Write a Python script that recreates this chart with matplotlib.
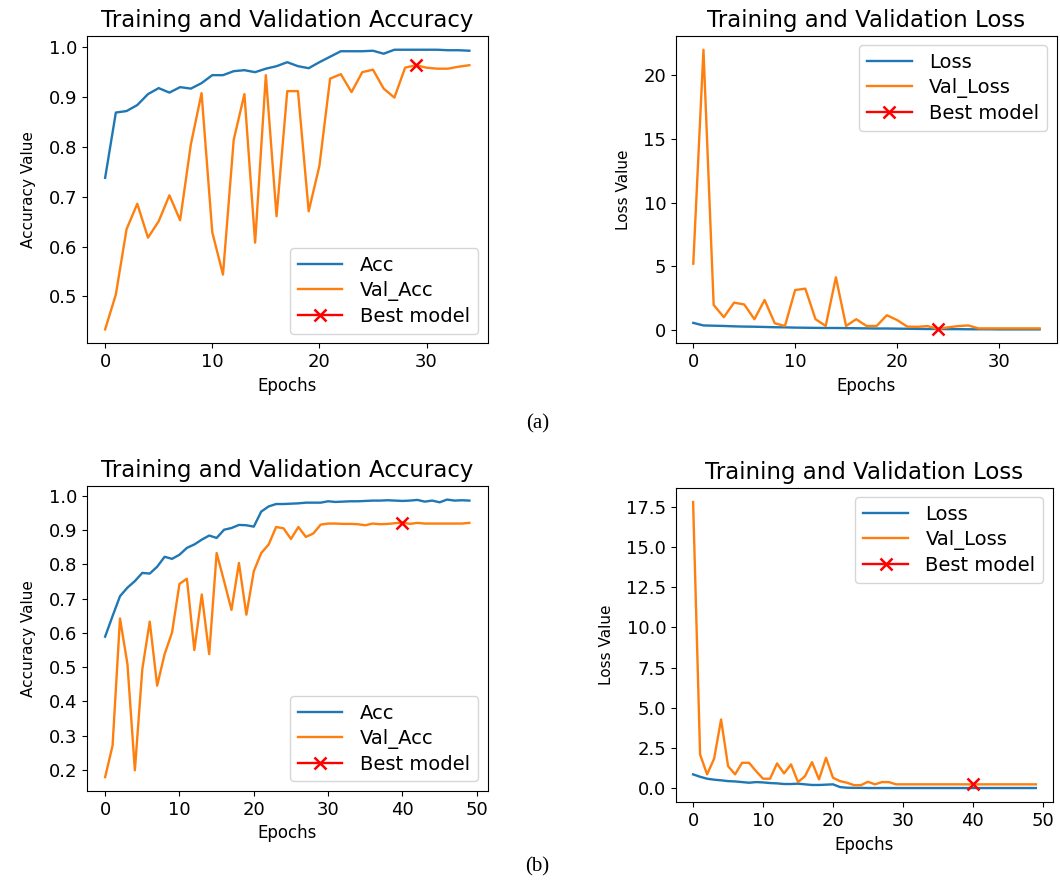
import matplotlib
matplotlib.use("Agg")
import matplotlib.pyplot as plt
import matplotlib.ticker as ticker
import numpy as np

# ---------------------------------------------------------------------------
# Data (a) run: 35 epochs, (b) run: 50 epochs
# ---------------------------------------------------------------------------
acc_a = [0.738, 0.869, 0.872, 0.884, 0.906, 0.918, 0.909, 0.920, 0.917, 0.928,
         0.944, 0.944, 0.952, 0.954, 0.950, 0.957, 0.962, 0.970, 0.962, 0.958,
         0.970, 0.981, 0.992, 0.992, 0.992, 0.993, 0.987, 0.995, 0.995, 0.995,
         0.995, 0.995, 0.994, 0.994, 0.993]
val_acc_a = [0.434, 0.504, 0.635, 0.686, 0.618, 0.651, 0.703, 0.653, 0.805, 0.908,
             0.629, 0.544, 0.814, 0.906, 0.608, 0.944, 0.661, 0.912, 0.912, 0.671,
             0.762, 0.937, 0.946, 0.910, 0.950, 0.955, 0.917, 0.899, 0.959, 0.964,
             0.959, 0.957, 0.957, 0.961, 0.964]
loss_a = [0.55, 0.35, 0.33, 0.31, 0.28, 0.26, 0.25, 0.23, 0.21, 0.20,
          0.18, 0.17, 0.16, 0.15, 0.15, 0.14, 0.13, 0.12, 0.11, 0.11,
          0.10, 0.09, 0.08, 0.07, 0.07, 0.06, 0.06, 0.05, 0.05, 0.05,
          0.04, 0.04, 0.04, 0.04, 0.04]
val_loss_a = [5.2, 22.0, 1.96, 1.0, 2.14, 2.0, 0.84, 2.35, 0.52, 0.31,
              3.13, 3.24, 0.84, 0.31, 4.13, 0.31, 0.84, 0.31, 0.31, 1.15,
              0.78, 0.26, 0.24, 0.30, 0.08, 0.20, 0.30, 0.35, 0.12, 0.12,
              0.12, 0.12, 0.12, 0.12, 0.12]
best_acc_a = 29
best_loss_a = 24

acc_b = [0.589, 0.649, 0.707, 0.732, 0.751, 0.775, 0.773, 0.793, 0.822, 0.816,
         0.828, 0.848, 0.858, 0.872, 0.884, 0.877, 0.901, 0.906, 0.915, 0.914,
         0.910, 0.954, 0.969, 0.976, 0.976, 0.977, 0.978, 0.980, 0.980, 0.980,
         0.984, 0.982, 0.983, 0.984, 0.984, 0.985, 0.986, 0.986, 0.987, 0.986,
         0.985, 0.986, 0.988, 0.983, 0.986, 0.981, 0.989, 0.986, 0.987, 0.986]
val_acc_b = [0.179, 0.271, 0.642, 0.509, 0.199, 0.494, 0.633, 0.446, 0.538, 0.601,
             0.743, 0.758, 0.550, 0.712, 0.538, 0.833, 0.751, 0.667, 0.804, 0.653,
             0.780, 0.833, 0.858, 0.909, 0.905, 0.874, 0.909, 0.880, 0.890, 0.916,
             0.919, 0.919, 0.918, 0.918, 0.917, 0.914, 0.919, 0.917, 0.918, 0.920,
             0.922, 0.918, 0.921, 0.919, 0.919, 0.919, 0.919, 0.919, 0.919, 0.921]
loss_b = [0.87, 0.72, 0.60, 0.54, 0.50, 0.45, 0.43, 0.39, 0.35, 0.39,
          0.37, 0.33, 0.31, 0.27, 0.27, 0.29, 0.25, 0.21, 0.21, 0.23,
          0.25, 0.08, 0.04, 0.03, 0.03, 0.02, 0.02, 0.02, 0.02, 0.02,
          0.02, 0.02, 0.02, 0.02, 0.02, 0.02, 0.02, 0.02, 0.02, 0.02,
          0.02, 0.02, 0.02, 0.02, 0.02, 0.02, 0.02, 0.02, 0.02, 0.02]
val_loss_b = [17.8, 2.10, 0.87, 1.84, 4.28, 1.38, 0.87, 1.59, 1.59, 1.07,
              0.60, 0.60, 1.55, 0.93, 1.49, 0.39, 0.76, 1.63, 0.56, 1.90,
              0.66, 0.45, 0.35, 0.20, 0.20, 0.41, 0.25, 0.39, 0.39, 0.25,
              0.25, 0.25, 0.25, 0.25, 0.25, 0.25, 0.25, 0.25, 0.25, 0.25,
              0.25, 0.25, 0.25, 0.25, 0.25, 0.25, 0.25, 0.25, 0.25, 0.25]
best_acc_b = 40
best_loss_b = 40

LW = 1.7
LEG = dict(fontsize=14, handlelength=2.3, labelspacing=0.3, handletextpad=0.9)


def plot_acc(ax, acc, val_acc, best):
    ep = np.arange(len(acc))
    ax.plot(ep, acc, color="#1f77b4", lw=LW, label="Acc")
    ax.plot(ep, val_acc, color="#ff7f0e", lw=LW, label="Val_Acc")
    ax.plot(best, val_acc[best], "x-", color="red", ms=9, mew=1.8, lw=LW,
            label="Best model")
    ax.set_title("Training and Validation Accuracy", fontsize=16.5)
    ax.set_xlabel("Epochs", fontsize=12)
    ax.set_ylabel("Accuracy Value", fontsize=11, labelpad=9)
    ax.yaxis.set_major_locator(ticker.MultipleLocator(0.1))
    ax.tick_params(labelsize=13)
    ax.legend(loc="lower right", **LEG)


def plot_loss(ax, loss, val_loss, best):
    ep = np.arange(len(loss))
    ax.plot(ep, loss, color="#1f77b4", lw=LW, label="Loss")
    ax.plot(ep, val_loss, color="#ff7f0e", lw=LW, label="Val_Loss")
    ax.plot(best, val_loss[best], "x-", color="red", ms=9, mew=1.8, lw=LW,
            label="Best model")
    ax.set_title("Training and Validation Loss", fontsize=16.5)
    ax.set_xlabel("Epochs", fontsize=12)
    ax.set_ylabel("Loss Value", fontsize=11, labelpad=9)
    ax.tick_params(labelsize=13)
    ax.legend(loc="upper right", **LEG)


fig = plt.figure(figsize=(10.6, 8.85), dpi=100)

ax1 = fig.add_axes([0.082, 0.612, 0.378, 0.3476])
ax2 = fig.add_axes([0.6377, 0.612, 0.3594, 0.3476])
ax3 = fig.add_axes([0.082, 0.1062, 0.378, 0.345])
ax4 = fig.add_axes([0.6377, 0.0934, 0.3557, 0.3555])

plot_acc(ax1, acc_a, val_acc_a, best_acc_a)
plot_loss(ax2, loss_a, val_loss_a, best_loss_a)
plot_acc(ax3, acc_b, val_acc_b, best_acc_b)
plot_loss(ax4, loss_b, val_loss_b, best_loss_b)

fig.text(0.507, 0.521, "(a)", fontsize=15, family="Liberation Serif",
         ha="center", va="center")
fig.text(0.507, 0.020, "(b)", fontsize=15, family="Liberation Serif",
         ha="center", va="center")

fig.savefig("out.png", dpi=100)
